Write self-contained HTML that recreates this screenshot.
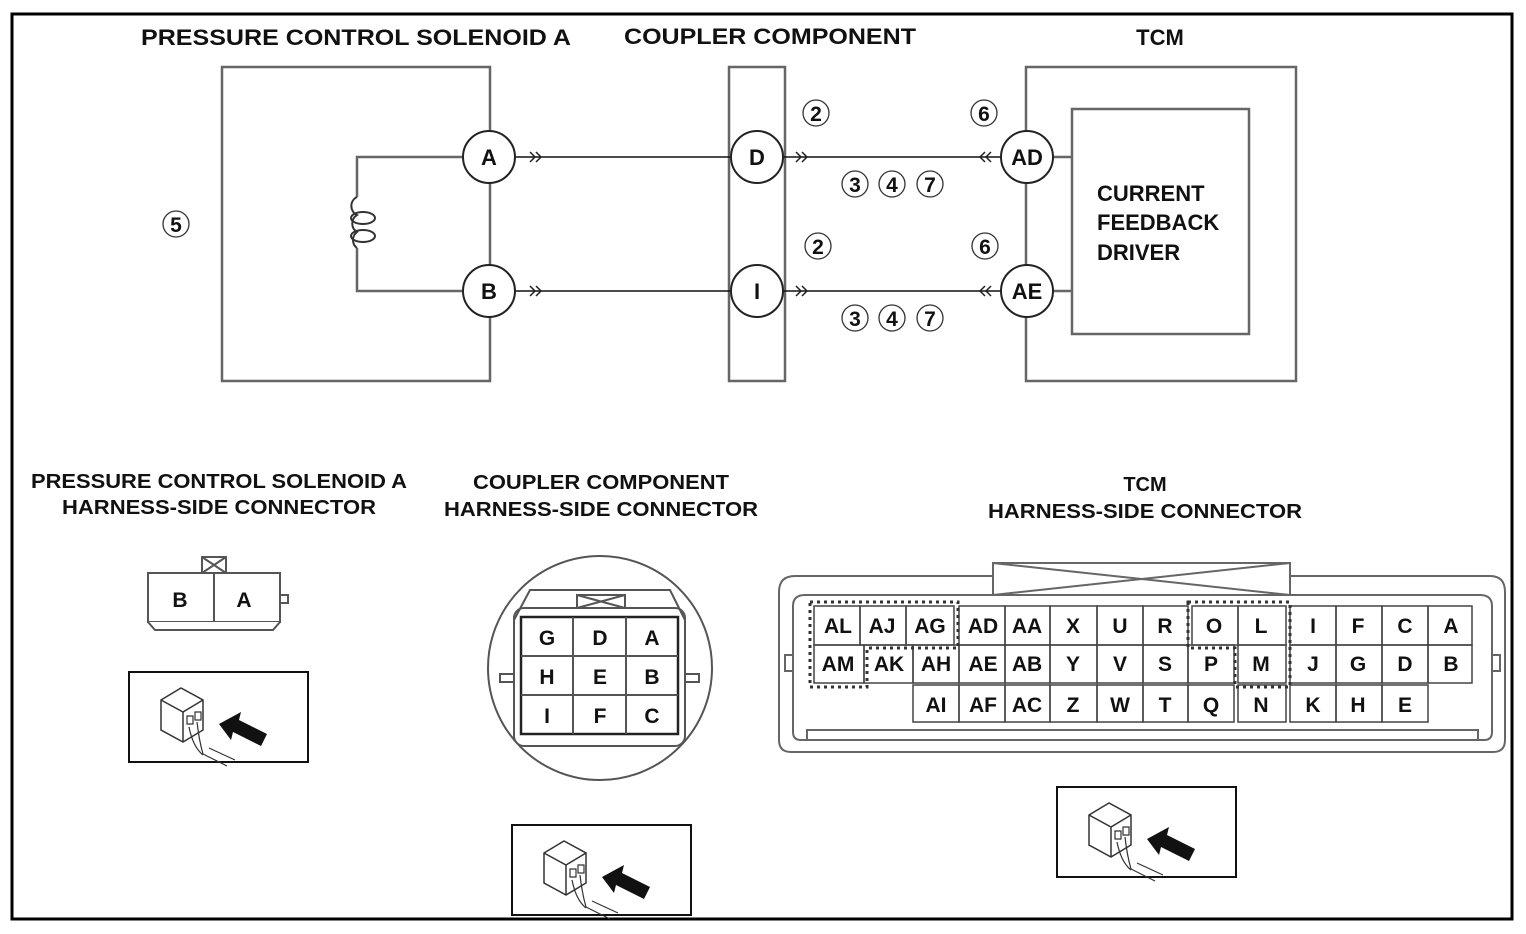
<!DOCTYPE html>
<html><head><meta charset="utf-8"><style>
html,body{margin:0;padding:0;background:#fff;}
svg{display:block;}
text{font-family:"Liberation Sans",sans-serif;fill:#111;}
.t{font-size:22px;font-weight:bold;}
.l{font-size:21px;text-anchor:middle;font-weight:bold;}
.c{font-size:22px;text-anchor:middle;font-weight:bold;}
.n{font-size:21px;text-anchor:middle;font-weight:bold;}
</style></head><body>
<svg width="1526" height="934" viewBox="0 0 1526 934" xmlns="http://www.w3.org/2000/svg">
<defs>
<g id="ic">
<rect x="0" y="0" width="179" height="90" fill="#fff" stroke="#111" stroke-width="2"/>
<path d="M32 28 L52 16 L74 28 L74 58 L54 70 L32 58 Z" fill="#fff" stroke="#333" stroke-width="1.5"/>
<path d="M32 28 L54 40 L74 28 M54 40 V70" fill="none" stroke="#333" stroke-width="1.5"/>
<path d="M58 44 h6 v8 h-6z M66 40 h6 v8 h-6z" fill="none" stroke="#333" stroke-width="1.2"/>
<path d="M60 55 q4 20 14 28 M68 50 q2 18 6 32 M74 82 l24 12 M80 76 l26 12" fill="none" stroke="#333" stroke-width="1.2"/>
<path d="M90 52 L112 40 L110 48 L138 62 L132 74 L104 60 L102 68 Z" fill="#111"/>
</g>
<g id="cn"><circle r="13" fill="none" stroke="#333" stroke-width="1.3"/></g>
</defs>
<rect x="12" y="14" width="1500" height="905" fill="none" stroke="#000" stroke-width="3"/>
<text class="t" x="356" y="45" text-anchor="middle" textLength="430" lengthAdjust="spacingAndGlyphs">PRESSURE CONTROL SOLENOID A</text>
<text class="t" x="770" y="44" text-anchor="middle" textLength="292" lengthAdjust="spacingAndGlyphs">COUPLER COMPONENT</text>
<text class="t" x="1160" y="45" text-anchor="middle">TCM</text>

<g stroke="#666" stroke-width="2.5" fill="none">
<rect x="222" y="67" width="268" height="314"/>
<rect x="729" y="67" width="56" height="314"/>
<rect x="1026" y="67" width="270" height="314"/>
<rect x="1072" y="109" width="177" height="225"/>
<path d="M462 157 H357 V197 M357 248 V291 H462"/>
</g>
<g stroke="#333" stroke-width="2" fill="none">
<path d="M357 197 a10 10 0 0 0 0 18 a10 10 0 0 0 0 17 a10 10 0 0 0 0 16"/>
<ellipse cx="363" cy="218" rx="12" ry="6"/>
<ellipse cx="363" cy="236" rx="12" ry="6"/>
</g>
<g stroke="#111" stroke-width="1.5" fill="none">
<line x1="515" y1="157" x2="731" y2="157"/>
<line x1="515" y1="291" x2="731" y2="291"/>
<line x1="783" y1="157" x2="1001" y2="157"/>
<line x1="783" y1="291" x2="1001" y2="291"/>
<line x1="1053" y1="157" x2="1072" y2="157" stroke="#666" stroke-width="2.5"/>
<line x1="1053" y1="291" x2="1072" y2="291" stroke="#666" stroke-width="2.5"/>
</g>
<g stroke="#222" stroke-width="2" fill="#fff">
<ellipse cx="489" cy="157" rx="26" ry="26"/>
<ellipse cx="489" cy="291" rx="26" ry="26"/>
<ellipse cx="757" cy="157" rx="26" ry="26"/>
<ellipse cx="757" cy="291" rx="26" ry="26"/>
<ellipse cx="1027" cy="157" rx="26" ry="26"/>
<ellipse cx="1027" cy="291" rx="26" ry="26"/>
</g>
<text class="c" x="489" y="165">A</text>
<text class="c" x="489" y="299">B</text>
<text class="c" x="757" y="165">D</text>
<text class="c" x="757" y="299">I</text>
<text class="c" x="1027" y="165">AD</text>
<text class="c" x="1027" y="299">AE</text>
<g stroke="#222" stroke-width="1.5" fill="none">
<path d="M530 152 l5 5 l-5 5 M536 152 l5 5 l-5 5"/>
<path d="M530 286 l5 5 l-5 5 M536 286 l5 5 l-5 5"/>
<path d="M796 152 l5 5 l-5 5 M802 152 l5 5 l-5 5"/>
<path d="M796 286 l5 5 l-5 5 M802 286 l5 5 l-5 5"/>
<path d="M985 152 l-5 5 l5 5 M991 152 l-5 5 l5 5"/>
<path d="M985 286 l-5 5 l5 5 M991 286 l-5 5 l5 5"/>
</g>
<g>
<use href="#cn" x="816" y="113"/><text class="n" x="816" y="121">2</text>
<use href="#cn" x="984" y="113"/><text class="n" x="984" y="121">6</text>
<use href="#cn" x="818" y="246"/><text class="n" x="818" y="254">2</text>
<use href="#cn" x="985" y="246"/><text class="n" x="985" y="254">6</text>
<use href="#cn" x="855" y="184"/><text class="n" x="855" y="192">3</text>
<use href="#cn" x="892" y="184"/><text class="n" x="892" y="192">4</text>
<use href="#cn" x="930" y="184"/><text class="n" x="930" y="192">7</text>
<use href="#cn" x="855" y="318"/><text class="n" x="855" y="326">3</text>
<use href="#cn" x="892" y="318"/><text class="n" x="892" y="326">4</text>
<use href="#cn" x="930" y="318"/><text class="n" x="930" y="326">7</text>
<use href="#cn" x="176" y="224"/><text class="n" x="176" y="232">5</text>
</g>
<text x="1097" y="201" font-size="22" font-weight="bold">CURRENT</text>
<text x="1097" y="230" font-size="22" font-weight="bold">FEEDBACK</text>
<text x="1097" y="260" font-size="22" font-weight="bold">DRIVER</text>

<g font-size="20" text-anchor="middle" font-weight="bold">
<text x="219" y="488" textLength="376" lengthAdjust="spacingAndGlyphs">PRESSURE CONTROL SOLENOID A</text>
<text x="219" y="514" textLength="314" lengthAdjust="spacingAndGlyphs">HARNESS-SIDE CONNECTOR</text>
<text x="601" y="489" textLength="256" lengthAdjust="spacingAndGlyphs">COUPLER COMPONENT</text>
<text x="601" y="516" textLength="314" lengthAdjust="spacingAndGlyphs">HARNESS-SIDE CONNECTOR</text>
<text x="1145" y="491">TCM</text>
<text x="1145" y="518" textLength="314" lengthAdjust="spacingAndGlyphs">HARNESS-SIDE CONNECTOR</text>
</g>

<g stroke="#555" stroke-width="2" fill="#fff">
<rect x="202" y="557" width="24" height="16"/>
<path d="M202 557 L226 573 M226 557 L202 573"/>
<rect x="148" y="573" width="132" height="49"/>
<line x1="214" y1="573" x2="214" y2="622"/>
<path d="M148 622 L155 630 H273 L280 622"/>
<rect x="280" y="595" width="8" height="8"/>
</g>
<text class="l" x="180" y="607">B</text><text class="l" x="244" y="607">A</text>

<g stroke="#555" stroke-width="2" fill="none">
<ellipse cx="600" cy="668" rx="112" ry="112"/>
<path d="M514 620 L530 590 H670 L685 620"/>
<rect x="577" y="595" width="48" height="13" fill="#fff"/>
<path d="M577 595 L625 608 M625 595 L577 608"/>
<rect x="514" y="608" width="171" height="138" rx="10"/>
<rect x="521" y="617" width="157" height="117" stroke="#222" stroke-width="2.5"/>
<path d="M573 617 V734 M626 617 V734 M521 656 H678 M521 695 H678"/>
<rect x="500" y="674" width="14" height="8"/>
<rect x="685" y="674" width="14" height="8"/>
</g>
<text class="l" x="547" y="645">G</text><text class="l" x="600" y="645">D</text><text class="l" x="652" y="645">A</text>
<text class="l" x="547" y="684">H</text><text class="l" x="600" y="684">E</text><text class="l" x="652" y="684">B</text>
<text class="l" x="547" y="723">I</text><text class="l" x="600" y="723">F</text><text class="l" x="652" y="723">C</text>

<g stroke="#666" stroke-width="2" fill="none">
<path d="M779 722 V592 Q779 576 795 576 H993 M1290 576 H1490 Q1505 576 1505 592 V722"/>
<path d="M779 722 V740 Q779 752 791 752 H1493 Q1505 752 1505 740 V722"/>
<path d="M793 722 V606 Q793 595 805 595 H1480 Q1492 595 1492 606 V722"/>
<path d="M793 722 V732 Q793 740 801 740 H1484 Q1492 740 1492 732 V722"/>
<path d="M807 740 V730 H1478 V740"/>
<rect x="993" y="563" width="297" height="32" fill="#fff"/>
<path d="M993 563 L1290 595 M1290 563 L993 595"/>
<rect x="785" y="655" width="8" height="16"/><rect x="1492" y="655" width="8" height="16"/>
</g>
<g stroke="#444" stroke-width="1.5" fill="none">
<rect x="814" y="606" width="46" height="39"/><rect x="860" y="606" width="46" height="39"/><rect x="906" y="606" width="48" height="39"/>
<rect x="959" y="606" width="46" height="39"/><rect x="1005" y="606" width="45" height="39"/><rect x="1050" y="606" width="47" height="39"/><rect x="1097" y="606" width="46" height="39"/><rect x="1143" y="606" width="45" height="39"/>
<rect x="1192" y="606" width="46" height="39"/><rect x="1238" y="606" width="48" height="39"/>
<rect x="1290" y="606" width="46" height="39"/><rect x="1336" y="606" width="46" height="39"/><rect x="1382" y="606" width="46" height="39"/><rect x="1428" y="606" width="44" height="39"/>
<rect x="814" y="645" width="50" height="38"/><rect x="864" y="645" width="49" height="38"/><rect x="913" y="645" width="46" height="38"/>
<rect x="959" y="645" width="46" height="38"/><rect x="1005" y="645" width="45" height="38"/><rect x="1050" y="645" width="47" height="38"/><rect x="1097" y="645" width="46" height="38"/><rect x="1143" y="645" width="45" height="38"/><rect x="1188" y="645" width="46" height="38"/>
<rect x="1238" y="645" width="48" height="38"/>
<rect x="1290" y="645" width="46" height="38"/><rect x="1336" y="645" width="46" height="38"/><rect x="1382" y="645" width="46" height="38"/><rect x="1428" y="645" width="44" height="38"/>
<rect x="913" y="685" width="46" height="37"/><rect x="959" y="685" width="46" height="37"/><rect x="1005" y="685" width="45" height="37"/><rect x="1050" y="685" width="47" height="37"/><rect x="1097" y="685" width="46" height="37"/><rect x="1143" y="685" width="45" height="37"/><rect x="1188" y="685" width="46" height="37"/>
<rect x="1238" y="685" width="48" height="37"/>
<rect x="1290" y="685" width="46" height="37"/><rect x="1336" y="685" width="46" height="37"/><rect x="1382" y="685" width="46" height="37"/>
</g>
<g stroke="#333" stroke-width="3" fill="none" stroke-dasharray="3 4">
<path d="M810 602 H958 V648 H867 V687 H810 Z"/>
<path d="M1188 602 H1290 V687 H1235 V648 H1188 Z"/>
</g>
<text class="l" x="838" y="633">AL</text><text class="l" x="882" y="633">AJ</text><text class="l" x="930" y="633">AG</text><text class="l" x="983" y="633">AD</text><text class="l" x="1027" y="633">AA</text><text class="l" x="1073" y="633">X</text><text class="l" x="1120" y="633">U</text><text class="l" x="1165" y="633">R</text><text class="l" x="1214" y="633">O</text><text class="l" x="1261" y="633">L</text><text class="l" x="1313" y="633">I</text><text class="l" x="1358" y="633">F</text><text class="l" x="1405" y="633">C</text><text class="l" x="1451" y="633">A</text>
<text class="l" x="838" y="671">AM</text><text class="l" x="889" y="671">AK</text><text class="l" x="936" y="671">AH</text><text class="l" x="983" y="671">AE</text><text class="l" x="1027" y="671">AB</text><text class="l" x="1073" y="671">Y</text><text class="l" x="1120" y="671">V</text><text class="l" x="1165" y="671">S</text><text class="l" x="1211" y="671">P</text><text class="l" x="1261" y="671">M</text><text class="l" x="1313" y="671">J</text><text class="l" x="1358" y="671">G</text><text class="l" x="1405" y="671">D</text><text class="l" x="1451" y="671">B</text>
<text class="l" x="936" y="712">AI</text><text class="l" x="983" y="712">AF</text><text class="l" x="1027" y="712">AC</text><text class="l" x="1073" y="712">Z</text><text class="l" x="1120" y="712">W</text><text class="l" x="1165" y="712">T</text><text class="l" x="1211" y="712">Q</text><text class="l" x="1261" y="712">N</text><text class="l" x="1313" y="712">K</text><text class="l" x="1358" y="712">H</text><text class="l" x="1405" y="712">E</text>

<use href="#ic" x="129" y="672"/>
<use href="#ic" x="512" y="825"/>
<use href="#ic" x="1057" y="787"/>
</svg>
</body></html>
